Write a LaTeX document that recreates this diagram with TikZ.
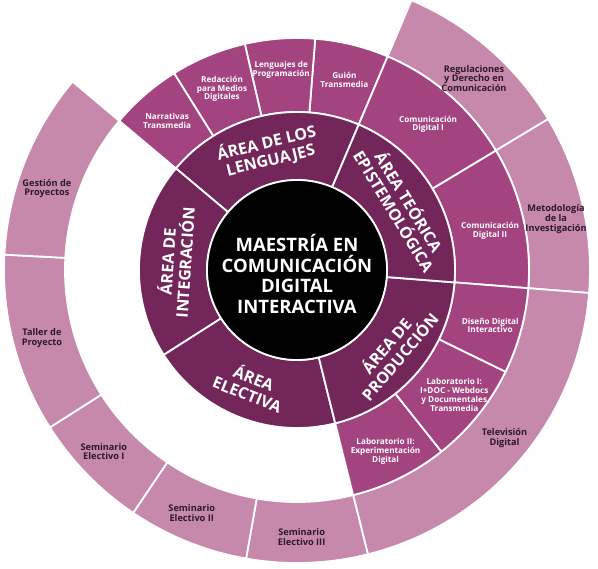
\documentclass[tikz,border=0pt]{standalone}
\usepackage{fontspec}
\setmainfont{Open Sans}
\definecolor{oscuro}{RGB}{114,38,90}
\definecolor{medio}{RGB}{163,67,128}
\definecolor{claro}{RGB}{198,136,171}
\definecolor{tinta}{RGB}{43,27,38}
\tikzset{
    % Style for the ring pieces
    trozo/.style={
           fill=#1,
           draw=white,
           line width=1.8pt},
    % Style for the area names (inner ring)
    rotulo/.style={
           text=white,
           font=\bfseries\fontsize{16}{17.5}\selectfont,
           align=center,
           inner sep=0pt},
    % Style for the courses (middle ring)
    curso/.style={
           text=white,
           font=\bfseries\fontsize{8.2}{8.8}\selectfont,
           align=center,
           inner sep=0pt},
    % Style for the outer ring
    extra/.style={
           text=tinta,
           font=\bfseries\fontsize{9.2}{9.6}\selectfont,
           align=center,
           inner sep=0pt}
}
% piece of ring: colour, inner radius, outer radius, start angle, end angle
\newcommand*{\trozo}[5]{\filldraw[trozo=#1] (#4:#2pt) arc[start angle=#4, end angle=#5, radius=#2pt] -- (#5:#3pt) arc[start angle=#5, end angle=#4, radius=#3pt] -- cycle;}

\begin{document}
\begin{tikzpicture}[x=1pt,y=1pt]
\useasboundingbox (-297,-299) rectangle (301,270);

% Outer ring
\trozo{claro}{232}{293}{31}{67}
\trozo{claro}{232}{293}{-4.5}{31}
\trozo{claro}{232}{293}{-76}{-4.5}
\trozo{claro}{232}{293}{-100}{-76}
\trozo{claro}{232}{293}{-124}{-100}
\trozo{claro}{232}{293}{-147.5}{-124}
\trozo{claro}{232}{293}{177}{212.5}
\trozo{claro}{232}{293}{140}{177}

% Middle ring
\trozo{medio}{158}{232}{67}{85.5}
\trozo{medio}{158}{232}{85.5}{103}
\trozo{medio}{158}{232}{103}{122}
\trozo{medio}{158}{232}{122}{140}
\trozo{medio}{158}{232}{-4.5}{31}
\trozo{medio}{158}{232}{31}{67}
\trozo{medio}{158}{232}{-76}{-51.5}
\trozo{medio}{158}{232}{-51.5}{-26}
\trozo{medio}{158}{232}{-26}{-4.5}

% Inner ring
\trozo{oscuro}{90}{158}{67}{140}
\trozo{oscuro}{90}{158}{140}{212.5}
\trozo{oscuro}{90}{158}{212.5}{284}
\trozo{oscuro}{90}{158}{-76}{-4.5}
\trozo{oscuro}{90}{158}{-4.5}{67}

% Centre
\filldraw[fill=black, draw=white, line width=1.8pt] (0,0) circle[radius=90pt];
\node[text=white, font=\bfseries\fontsize{18.5}{20.5}\selectfont, align=center] (c) at (0,-4) {MAESTRÍA EN\\COMUNICACIÓN\\DIGITAL\\INTERACTIVA};

% Areas
\node[rotulo, rotate=13.5] (aLen) at (103.5:122pt) {ÁREA DE LOS\\LENGUAJES};
\node[rotulo, rotate=-58.75] (aTeo) at (31.25:123pt) {ÁREA TEÓRICA\\EPISTEMOLÓGICA};
\node[rotulo, rotate=49.75] (aPro) at (319.75:125pt) {ÁREA DE\\PRODUCCIÓN};
\node[rotulo, rotate=-21.75] (aEle) at (248.25:124pt) {ÁREA\\ELECTIVA};
\node[rotulo, rotate=86.25] (aInt) at (176.25:122pt) {ÁREA DE\\INTEGRACIÓN};

% Courses
\node[curso] (nNar) at (131:198pt) {Narrativas\\Transmedia};
\node[curso] (nRed) at (112.5:196pt) {Redacción\\para Medios\\Digitales};
\node[curso] (nProg) at (94.5:201pt) {Lenguajes de\\Programación};
\node[curso] (nGui) at (76:196pt) {Guión\\Transmedia};
\node[curso] (nCom1) at (48:196pt) {Comunicación\\Digital I};
\node[curso] (nCom2) at (11.5:197pt) {Comunicación\\Digital II};
\node[curso] (nDis) at (-16:201pt) {Diseño Digital\\Interactivo};
\node[curso] (nLab1) at (-38.5:201pt) {Laboratorio I:\\I+DOC - Webdocs\\y Documentales\\Transmedia};
\node[curso] (nLab2) at (-64:202pt) {Laboratorio II:\\Experimentación\\Digital};

% Outer ring
\node[extra] (eReg) at (47.3:261pt) {Regulaciones\\y Derecho en\\Comunicación};
\node[extra] (eMet) at (11.1:264pt) {Metodología\\de la\\Investigación};
\node[extra] (eTel) at (-39:267pt) {Televisión\\Digital};
\node[extra] (eSem3) at (-89:267pt) {Seminario\\Electivo III};
\node[extra] (eSem2) at (246.6:265pt) {Seminario\\Electivo II};
\node[extra] (eSem1) at (223.2:265pt) {Seminario\\Electivo I};
\node[extra] (eTal) at (195:264pt) {Taller de\\Proyecto};
\node[extra] (eGes) at (162:263pt) {Gestión de\\Proyectos};
\end{tikzpicture}
\end{document}
